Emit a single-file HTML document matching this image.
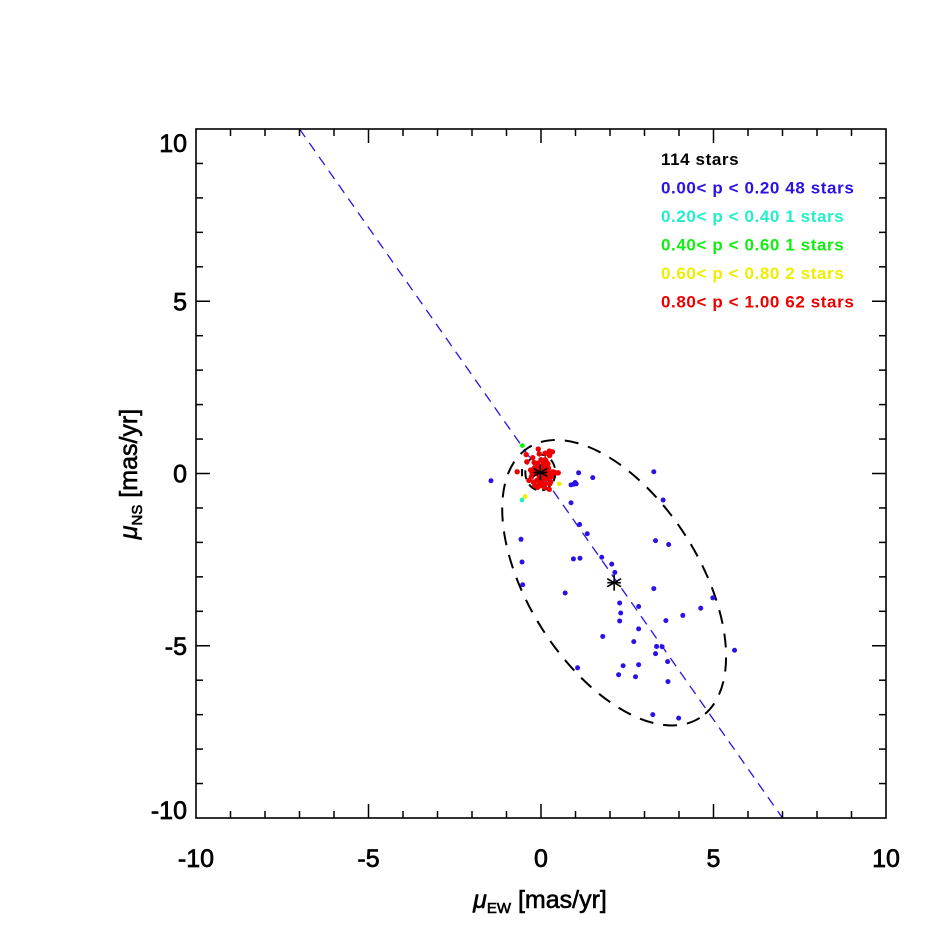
<!DOCTYPE html>
<html><head><meta charset="utf-8"><style>
html,body{margin:0;padding:0;background:#fff;}
svg{display:block;font-family:"Liberation Sans",Helvetica,sans-serif;}
</style></head><body>
<svg id="chart" width="944" height="944" viewBox="0 0 944 944">
<rect x="0" y="0" width="944" height="944" fill="#fff"/>
<g id="marks"></g>
<g id="axes"></g>
<g id="legend"></g>
</svg>
<script>
const xTicks=[-10,-5,0,5,10];
const yTicks=[-10,-5,0,5,10];
const blueX=[-1.45,1.09,1.50,3.27,0.87,0.99,3.54,0.87,1.12,1.34,-0.58,3.32,3.70,0.94,1.13,1.76,-0.55,2.05,2.14,-0.53,3.27,0.70,2.28,2.83,4.63,4.98,2.31,4.11,2.28,3.62,2.83,1.79,2.69,3.35,3.51,3.32,5.61,3.67,1.06,2.38,2.83,2.25,2.74,3.68,3.24,3.99,1.02,0.95];
const blueY=[-0.21,0.02,-0.12,0.05,-0.33,-0.26,-0.77,-0.85,-1.48,-1.75,-1.91,-1.95,-2.06,-2.48,-2.46,-2.43,-2.57,-2.63,-2.87,-3.23,-3.34,-3.47,-3.76,-3.86,-3.91,-3.61,-4.05,-4.12,-4.28,-4.27,-4.51,-4.73,-4.88,-5.02,-5.03,-5.23,-5.13,-5.46,-5.64,-5.58,-5.55,-5.84,-5.90,-6.04,-7.00,-7.10,-0.30,-0.31];
const redX=[-0.08,0.24,0.33,-0.05,0.12,-0.43,-0.24,0.25,-0.41,-0.69,0.43,0.50,0.24,-0.10,0.05,0.15,-0.20,0.00,0.10,-0.15,0.20,0.28,-0.25,-0.05,0.08,0.18,-0.12,0.02,0.12,-0.22,0.30,-0.30,0.05,-0.08,0.15,0.22,-0.18,0.00,0.10,-0.10,0.25,-0.28,0.06,-0.04,0.18,-0.15,0.35,-0.35,0.00,0.12,-0.20,0.08,0.28,-0.06,0.16,-0.26,0.04,0.20,-0.12,0.32,-0.02,0.10];
const redY=[0.71,0.65,0.63,0.57,0.59,0.55,0.46,0.52,0.34,0.05,0.02,0.02,-0.46,0.30,0.25,0.20,0.15,0.10,0.05,0.00,0.05,-0.05,-0.05,-0.10,-0.15,-0.15,-0.20,-0.25,-0.30,-0.25,-0.10,0.10,0.35,0.15,0.35,0.15,-0.35,-0.35,-0.40,-0.40,-0.30,-0.10,0.00,0.05,-0.05,0.22,0.05,-0.20,0.40,0.40,0.32,-0.05,-0.25,-0.32,0.08,0.02,-0.18,0.28,0.12,-0.02,-0.12,0.18];
const cyanX=[-0.55], cyanY=[-0.77];
const greenX=[-0.54], greenY=[0.81];
const yellowX=[-0.46,0.53], yellowY=[-0.67,-0.30];
const legendLabels=["114 stars","0.00< p < 0.20 48 stars","0.20< p < 0.40 1 stars","0.40< p < 0.60 1 stars","0.60< p < 0.80 2 stars","0.80< p < 1.00 62 stars"];
const legendColors=["#000","#2a12e6","#22eec8","#11ee11","#eeee00","#ee0000"];

const X0=196,X1=886,Y0=818,Y1=129;
const sx=v=>X0+(v+10)/20*(X1-X0);
const sy=v=>Y0-(v+10)/20*(Y0-Y1);
const NS="http://www.w3.org/2000/svg";
function mk(tag,attrs,parent){const e=document.createElementNS(NS,tag);for(const k in attrs)e.setAttribute(k,attrs[k]);parent.appendChild(e);return e;}
const marks=document.getElementById('marks'),axes=document.getElementById('axes'),legend=document.getElementById('legend');

let ln=mk('line',{x1:sx(-7),y1:sy(10),x2:sx(7),y2:sy(-10),stroke:'#2a12e6','stroke-width':1.3,'stroke-dasharray':'10,7'},marks);


let e1=mk('ellipse',{cx:sx(2.12),cy:sy(-3.17),rx:160,ry:85.5,transform:`rotate(57.7 ${sx(2.12)} ${sy(-3.17)})`,fill:'none',stroke:'#000','stroke-width':2,'stroke-dasharray':'14,10'},marks);


let e2=mk('ellipse',{cx:sx(-0.02),cy:sy(0.03),rx:15,ry:18,fill:'none',stroke:'#000','stroke-width':2,'stroke-dasharray':'9,6'},marks);


let eb=mk('line',{x1:sx(-0.55),y1:sy(0.13),x2:sx(-0.55),y2:sy(-0.08),stroke:'#000','stroke-width':2},marks);



function pts(xs,ys,col,name,r){for(let i=0;i<xs.length;i++){const c=mk('circle',{cx:sx(xs[i]),cy:sy(ys[i]),r:r,fill:col},marks);

}}
pts(blueX,blueY,'#2a12e6','blue-star-point',2.5);
pts(cyanX,cyanY,'#22eec8','cyan-star-point',2.4);
pts(greenX,greenY,'#11ee11','green-star-point',2.4);
pts(yellowX,yellowY,'#eeee00','yellow-star-point',2.4);
pts(redX,redY,'#ee0000','red-star-point',2.7);

function star(x,y,s,name){const g=mk('g',{stroke:'#000','stroke-width':1.6},marks);


const cx=sx(x),cy=sy(y);for(const a of [0,60,120]){const r=a*Math.PI/180;mk('line',{x1:cx-s*Math.sin(r),y1:cy-s*Math.cos(r),x2:cx+s*Math.sin(r),y2:cy+s*Math.cos(r)},g);}
mk('line',{x1:cx-s*0.85,y1:cy,x2:cx+s*0.85,y2:cy},g);}
star(2.12,-3.17,8,'field-center-star');
star(-0.02,0.03,8,'cluster-center-star');

let fr=mk('rect',{x:X0,y:Y1,width:X1-X0,height:Y0-Y1,fill:'none',stroke:'#000','stroke-width':1.6},axes);


for(let v=-10;v<=10;v++){const major=v%5===0,L=major?14:7;
 if(v>-10&&v<10){
 mk('line',{x1:sx(v),y1:Y0,x2:sx(v),y2:Y0-L,stroke:'#000','stroke-width':1.5},axes);
 mk('line',{x1:sx(v),y1:Y1,x2:sx(v),y2:Y1+L,stroke:'#000','stroke-width':1.5},axes);
 mk('line',{x1:X0,y1:sy(v),x2:X0+L,y2:sy(v),stroke:'#000','stroke-width':1.5},axes);
 mk('line',{x1:X1,y1:sy(v),x2:X1-L,y2:sy(v),stroke:'#000','stroke-width':1.5},axes);}}
xTicks.forEach(v=>{const t=mk('text',{x:sx(v),y:867,'text-anchor':'middle','font-size':25,stroke:'#000','stroke-width':0.7},axes);t.textContent=v;

});
yTicks.forEach(v=>{let yy=sy(v)+9;if(v===10)yy+=14;if(v===-10)yy-=8;
const t=mk('text',{x:187,y:yy,'text-anchor':'end','font-size':25,stroke:'#000','stroke-width':0.7},axes);t.textContent=v;

});
let xt=mk('text',{x:540,y:908,'text-anchor':'middle','font-size':25,stroke:'#000','stroke-width':0.6},axes);
xt.innerHTML='<tspan font-style="italic">μ</tspan><tspan font-size="15" dy="5">EW</tspan><tspan dy="-5"> [mas/yr]</tspan>';


let yt=mk('text',{x:0,y:0,'text-anchor':'middle','font-size':25,stroke:'#000','stroke-width':0.6,transform:'translate(137 474) rotate(-90)'},axes);
yt.innerHTML='<tspan font-style="italic">μ</tspan><tspan font-size="15" dy="5">NS</tspan><tspan dy="-5"> [mas/yr]</tspan>';


legendLabels.forEach((s,i)=>{const t=mk('text',{x:661,y:165+i*28.5,'font-size':17,'font-weight':'bold','letter-spacing':0.6,fill:legendColors[i]},legend);t.textContent=s;

});
</script>
</body></html>
